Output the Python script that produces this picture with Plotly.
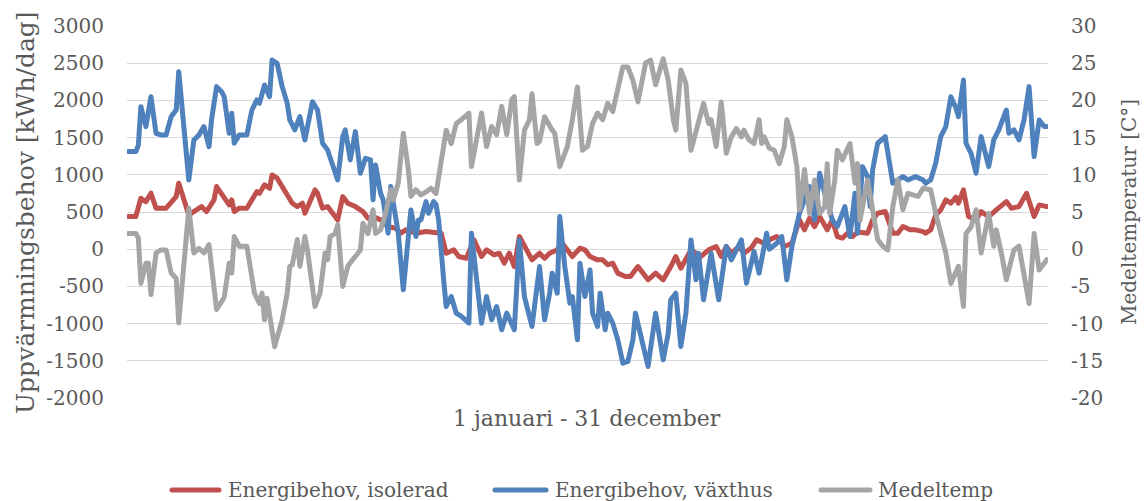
import plotly.graph_objects as go

# ---- data: day of year -> value ------------------------------------------
serie_namn = ["Energibehov, isolerad", "Energibehov, växthus", "Medeltemp"]

isolerad_dag = [1, 4, 6, 8, 10, 12, 16, 18, 20, 21, 25, 27, 30, 32, 35, 36, 38, 41, 42, 43,
                45, 48, 50, 52, 53, 55, 57, 58, 60, 62, 64, 66, 68, 70, 71, 75, 76, 78, 80, 82,
                83, 84, 86, 88, 91, 94, 96, 98, 101, 104, 107, 109, 111, 115, 119, 123, 125, 127, 130, 132,
                135, 138, 141, 143, 146, 148, 150, 152, 154, 156, 158, 161, 164, 166, 168, 171, 173, 177, 180, 182,
                184, 187, 189, 191, 193, 195, 198, 200, 203, 206, 207, 210, 213, 216, 218, 220, 222, 224, 228, 231,
                234, 236, 238, 240, 243, 245, 248, 250, 253, 255, 258, 261, 264, 267, 269, 271, 273, 275, 278, 280,
                282, 284, 286, 288, 290, 292, 294, 296, 298, 301, 304, 306, 308, 311, 313, 316, 317, 319, 321, 323,
                325, 327, 329, 330, 332, 334, 337, 339, 342, 345, 349, 351, 354, 357, 360, 362, 365]
isolerad_kwh = [439, 439, 685, 640, 752, 551, 551, 640, 707, 886, 461, 506, 573, 506, 663, 842, 752, 595, 663, 506,
                551, 551, 663, 775, 752, 864, 819, 998, 954, 842, 752, 618, 573, 618, 484, 797, 752, 551, 573, 484,
                439, 394, 707, 618, 573, 506, 416, 439, 394, 304, 282, 215, 260, 215, 237, 215, 215, -54, -9, -98,
                -121, 125, -98, -9, -76, -54, -188, -54, -233, 170, 36, -143, -54, -121, -54, -9, 81, -98, 13, -9,
                -98, -143, -143, -210, -188, -322, -367, -367, -233, -367, -412, -322, -412, -233, -98, -255, -143, -9, -98, -9,
                36, -98, 36, -54, 36, -54, 20, 125, 81, 125, 170, 36, 81, 394, 260, 416, 304, 439, 260, 394,
                170, 148, 215, 170, 230, 215, 215, 394, 484, 506, 215, 215, 304, 260, 260, 237, 215, 260, 461, 528,
                663, 618, 700, 618, 797, 439, 394, 506, 439, 528, 640, 551, 573, 752, 439, 595, 573]

vaxthus_dag = [1, 4, 5, 6, 8, 10, 12, 14, 16, 18, 20, 21, 25, 27, 29, 31, 33, 34, 36, 38,
               39, 41, 42, 43, 45, 48, 50, 52, 53, 55, 57, 58, 60, 62, 64, 65, 67, 69, 71, 74,
               76, 78, 80, 82, 83, 84, 86, 87, 89, 91, 93, 95, 97, 98, 99, 101, 102, 104, 105, 107,
               108, 110, 113, 115, 116, 117, 119, 120, 122, 123, 124, 126, 127, 129, 131, 133, 136, 137, 139, 141,
               143, 145, 147, 149, 151, 154, 156, 158, 161, 164, 166, 168, 169, 171, 172, 174, 176, 177, 179, 180,
               182, 184, 185, 187, 188, 190, 191, 193, 195, 197, 199, 201, 202, 204, 207, 210, 213, 215, 216, 218,
               220, 222, 224, 226, 227, 229, 232, 235, 238, 240, 244, 246, 249, 251, 254, 255, 258, 260, 262, 264,
               267, 269, 271, 273, 275, 277, 280, 282, 285, 287, 289, 290, 292, 294, 295, 296, 298, 301, 302, 304,
               306, 308, 310, 313, 316, 317, 319, 321, 323, 325, 327, 329, 330, 332, 333, 335, 337, 339, 342, 344,
               346, 349, 350, 352, 354, 356, 358, 360, 362, 364, 365]
vaxthus_kwh = [1312, 1312, 1400, 1916, 1648, 2050, 1558, 1536, 1536, 1782, 1871, 2386, 931, 1468, 1536, 1648, 1379, 1737, 2185, 2117,
               2050, 1558, 1827, 1424, 1536, 1536, 1871, 2006, 1961, 2207, 2050, 2543, 2498, 2185, 1961, 1737, 1603, 1782, 1468, 1983,
               1871, 1424, 1334, 1155, 1066, 931, 1513, 1603, 1200, 1580, 1021, 1222, 1200, 663, 1133, 752, 663, 215, 842, 349,
               215, -546, 528, 170, 394, 394, 640, 484, 640, 600, 394, -412, -770, -636, -860, -904, -994, 215, -412, -994,
               -636, -949, -770, -1083, -860, -1083, 125, -636, -1039, -233, -949, -591, -322, -591, 439, -233, -725, -636, -1218, -188,
               -636, -278, -860, -1039, -591, -1083, -860, -994, -1218, -1531, -1508, -1218, -860, -1128, -1576, -860, -1486, -1128, -680, -591,
               -1307, -860, 125, -412, -54, -680, -54, -680, 36, -143, 125, -457, -30, -322, 215, 0, 81, 170, -412, 36,
               484, 663, 842, 394, 1021, 752, 394, 304, 573, 170, 752, 215, 1110, 976, 573, 1066, 1424, 1513, 1289, 886,
               931, 976, 931, 976, 931, 886, 931, 1155, 1513, 1648, 2050, 1900, 1782, 2274, 1424, 1289, 1021, 1513, 1110, 1468,
               1603, 1871, 1558, 1603, 1468, 1737, 2185, 1245, 1737, 1648, 1648]

temp_dag = [1, 4, 5, 6, 8, 9, 10, 12, 14, 16, 18, 20, 21, 25, 27, 29, 31, 33, 36, 39,
            41, 42, 43, 45, 48, 49, 51, 53, 54, 55, 56, 59, 60, 62, 64, 65, 66, 68, 69, 71,
            72, 74, 75, 77, 79, 80, 81, 83, 84, 86, 88, 90, 93, 94, 96, 98, 99, 101, 103, 105,
            106, 108, 110, 112, 113, 115, 117, 119, 121, 123, 124, 127, 129, 131, 133, 136, 137, 141, 143, 145,
            147, 149, 151, 153, 154, 156, 158, 160, 161, 163, 164, 166, 169, 170, 172, 175, 177, 179, 181, 183,
            185, 187, 189, 191, 193, 195, 197, 199, 201, 203, 205, 206, 208, 209, 210, 213, 215, 217, 218, 220,
            222, 224, 226, 229, 231, 232, 234, 236, 238, 240, 242, 244, 245, 247, 249, 251, 252, 253, 255, 257,
            259, 261, 262, 264, 266, 267, 269, 271, 273, 275, 277, 278, 279, 281, 282, 284, 287, 289, 290, 291,
            294, 296, 298, 300, 302, 304, 306, 308, 310, 312, 314, 316, 319, 321, 324, 325, 327, 329, 330, 332,
            333, 335, 337, 339, 342, 344, 345, 347, 349, 351, 352, 354, 356, 358, 360, 362, 364, 365]
temp_c = [2.1, 2.1, 1.5, -4.6, -1.9, -1.9, -6.1, -0.5, -0.1, -0.1, -3.2, -3.9, -9.9, 5.5, -0.5, 0.1, -0.5, 0.6, -8.1, -6.5,
          -1.9, -3.2, 1.7, 0.4, 0.4, -1.4, -5.9, -7.3, -5.9, -9.5, -6.6, -13.1, -11.7, -9.5, -5.9, -2.3, -2.1, 1.3, -2.3, 1.7,
          -0.1, -5.0, -7.7, -5.9, -0.5, -1.4, 1.7, 2.1, 3.3, -5.0, -2.3, -1.4, -0.1, 3.5, 2.1, 5.3, 2.1, 2.6, 4.8, 8.0,
          6.6, 8.9, 15.6, 10.7, 7.1, 8.0, 7.3, 7.7, 8.2, 7.5, 9.8, 16.0, 14.2, 16.9, 17.4, 18.3, 11.1, 18.3, 13.8, 16.5,
          15.4, 19.2, 15.4, 20.1, 20.5, 9.3, 16.0, 17.4, 20.9, 14.2, 14.5, 17.8, 16.0, 15.6, 11.1, 13.8, 17.4, 21.8, 13.3, 13.8,
          16.9, 18.3, 17.4, 19.6, 18.5, 21.8, 24.5, 24.5, 22.7, 19.8, 23.2, 25.0, 25.4, 23.4, 22.1, 25.6, 22.7, 17.4, 16.0, 24.1,
          22.3, 13.3, 15.6, 19.6, 16.9, 17.4, 13.8, 19.8, 12.9, 15.1, 16.2, 15.1, 16.0, 14.7, 14.2, 17.4, 14.2, 15.1, 13.6, 13.3,
          11.5, 13.8, 17.4, 15.1, 11.1, 5.3, 10.7, 4.8, 9.3, 4.8, 5.7, 11.5, 4.8, 9.3, 13.3, 12.0, 14.2, 8.9, 11.5, 3.9,
          9.3, 4.8, 1.3, 0.4, -0.1, 5.7, 9.3, 5.3, 7.5, 7.3, 7.1, 8.2, 8.0, 4.8, 0.8, -0.5, -4.6, -3.0, -2.3, -7.7,
          2.1, 3.0, 5.3, -0.5, 4.8, 0.4, 2.6, -0.5, -4.1, -1.4, -0.1, 0.4, -3.2, -7.3, 2.1, -2.8, -1.9, -1.4]

kwh_ticks = [-2000, -1500, -1000, -500, 0, 500, 1000, 1500, 2000, 2500, 3000]
kwh_tick_text = ["-2000", "-1500", "-1000", "-500", "0", "500", "1000", "1500", "2000", "2500", "3000"]
temp_ticks = [-20, -15, -10, -5, 0, 5, 10, 15, 20, 25, 30]
temp_tick_text = ["-20", "-15", "-10", "-5", "0", "5", "10", "15", "20", "25", "30"]

x_titel = "1 januari - 31 december"
y_titel = "Uppvärmningsbehov [kWh/dag]"
y2_titel = "Medeltemperatur [C°]"

# ---- styling --------------------------------------------------------------
farger = ["#C0504D", "#4F81BD", "#A5A5A5"]
TEXT = "#595959"
SERIF = "DejaVu Serif, Liberation Serif, serif"
W, H = 1145, 501
L, R, T, B = 127, 1048, 26, 398   # plot area in pixels
LINE_W = 5


def px_x(px):
    return (px - L) / (R - L)


def px_y(py):
    return (B - py) / (B - T)


fig = go.Figure()
fig.add_trace(go.Scatter(x=isolerad_dag, y=isolerad_kwh, name=serie_namn[0], mode="lines",
                         line=dict(color=farger[0], width=LINE_W), showlegend=False, hoverinfo="skip"))
fig.add_trace(go.Scatter(x=vaxthus_dag, y=vaxthus_kwh, name=serie_namn[1], mode="lines",
                         line=dict(color=farger[1], width=LINE_W), showlegend=False, hoverinfo="skip"))
fig.add_trace(go.Scatter(x=temp_dag, y=temp_c, name=serie_namn[2], mode="lines", yaxis="y2",
                         line=dict(color=farger[2], width=LINE_W), showlegend=False, hoverinfo="skip"))

# legend drawn as line samples with labels below the chart (round caps add ~2.5 px each end)
legend_pos = [(172, 219, 226), (495, 546, 553), (821, 870, 876)]
shapes = []
annotations = []
for (x0, x1, xt), namn, farg in zip(legend_pos, serie_namn, farger):
    shapes.append(dict(type="line", xref="paper", yref="paper",
                       x0=px_x(x0), x1=px_x(x1), y0=px_y(490), y1=px_y(490),
                       line=dict(color=farg, width=5)))
    annotations.append(dict(text=namn, xref="paper", yref="paper", x=px_x(xt), y=px_y(490),
                            xanchor="left", yanchor="middle", showarrow=False,
                            font=dict(family=SERIF, size=20, color=TEXT)))

annotations.append(dict(text=x_titel, xref="paper", yref="paper", x=px_x(587), y=px_y(418),
                        xanchor="center", yanchor="middle", showarrow=False,
                        font=dict(family=SERIF, size=22, color=TEXT)))
annotations.append(dict(text=y_titel, xref="paper", yref="paper", x=px_x(25), y=px_y(213),
                        xanchor="center", yanchor="middle", showarrow=False, textangle=-90,
                        font=dict(family=SERIF, size=25, color=TEXT)))
annotations.append(dict(text=y2_titel, xref="paper", yref="paper", x=px_x(1129), y=px_y(212),
                        xanchor="center", yanchor="middle", showarrow=False, textangle=-90,
                        font=dict(family=SERIF, size=20, color=TEXT)))

fig.update_layout(
    width=W, height=H,
    margin=dict(l=L, r=W - R, t=T, b=H - B, pad=0),
    paper_bgcolor="white", plot_bgcolor="white",
    xaxis=dict(range=[0.5, 365.5], showticklabels=False, showgrid=False, zeroline=False,
               showline=False, ticks=""),
    yaxis=dict(range=[-2000, 3000], tickvals=kwh_ticks, ticktext=kwh_tick_text,
               showgrid=True, gridcolor="#D9D9D9", gridwidth=1.3, zeroline=False, showline=False,
               ticks="", ticklabelstandoff=22, tickfont=dict(family=SERIF, size=20, color=TEXT)),
    yaxis2=dict(range=[-20, 30], tickvals=temp_ticks, ticktext=temp_tick_text, overlaying="y",
                side="right", showgrid=False, zeroline=False, showline=False, ticks="",
                ticklabelstandoff=22, tickfont=dict(family=SERIF, size=20, color=TEXT)),
    shapes=shapes,
    annotations=annotations,
)

# rounded joins on the series lines and rounded ends on the legend samples
round_css = (
    "var s=document.createElement('style');"
    "s.textContent='.scatterlayer .js-line{stroke-linejoin:round !important;stroke-linecap:round !important}"
    " .shapelayer path{stroke-linecap:round !important}';"
    "document.head.appendChild(s);"
)

fig.write_html("out.html", config={"displayModeBar": False}, post_script=round_css)
